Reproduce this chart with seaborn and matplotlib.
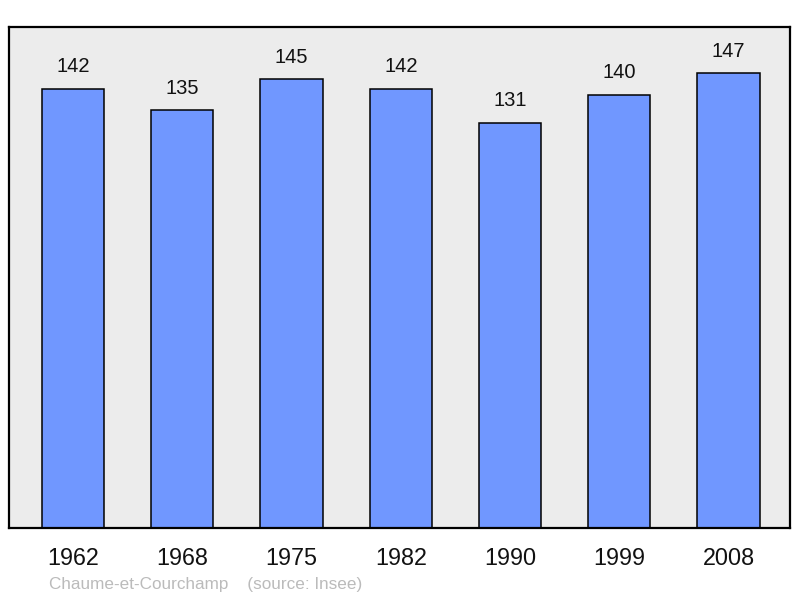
import matplotlib
matplotlib.use("Agg")
import matplotlib.pyplot as plt
import pandas as pd
import seaborn as sns

# population data
years = ["1962", "1968", "1975", "1982", "1990", "1999", "2008"]
population = [142, 135, 145, 142, 131, 140, 147]
commune = "Chaume-et-Courchamp"
source = "(source: Insee)"

df = pd.DataFrame({"year": years, "pop": population})

sns.set_theme(style="white")
plt.rcParams['font.family'] = ['Liberation Sans', 'DejaVu Sans']

fig = plt.figure(figsize=(8, 5.98), dpi=100)
ax = fig.add_axes([0.01125, 0.117, 0.976, 0.838])
ax.set_facecolor("#ececec")

sns.barplot(data=df, x="year", y="pop", color="#7097ff", saturation=1,
            edgecolor="black", linewidth=1.1, width=0.57, ax=ax)

for i, v in enumerate(population):
    ax.text(i, v + 7.2, str(v), ha="center", va="center", fontsize=14.5, color="#111111")

ax.set_xlim(-0.585, 6.56)
ax.set_ylim(0, 162)
ax.set_yticks([])
ax.set_xlabel("")
ax.set_ylabel("")
ax.tick_params(axis="x", length=0, pad=13.5, labelsize=16.8, colors="#111111")
for s in ax.spines.values():
    s.set_visible(True)
    s.set_color("black")
    s.set_linewidth(1.6)

fig.text(49 / 800, 1 - 585 / 598, commune + "    " + source, ha="left", va="center",
         fontsize=12.3, color="#bbbbbb")

plt.savefig("out.png", dpi=100)
